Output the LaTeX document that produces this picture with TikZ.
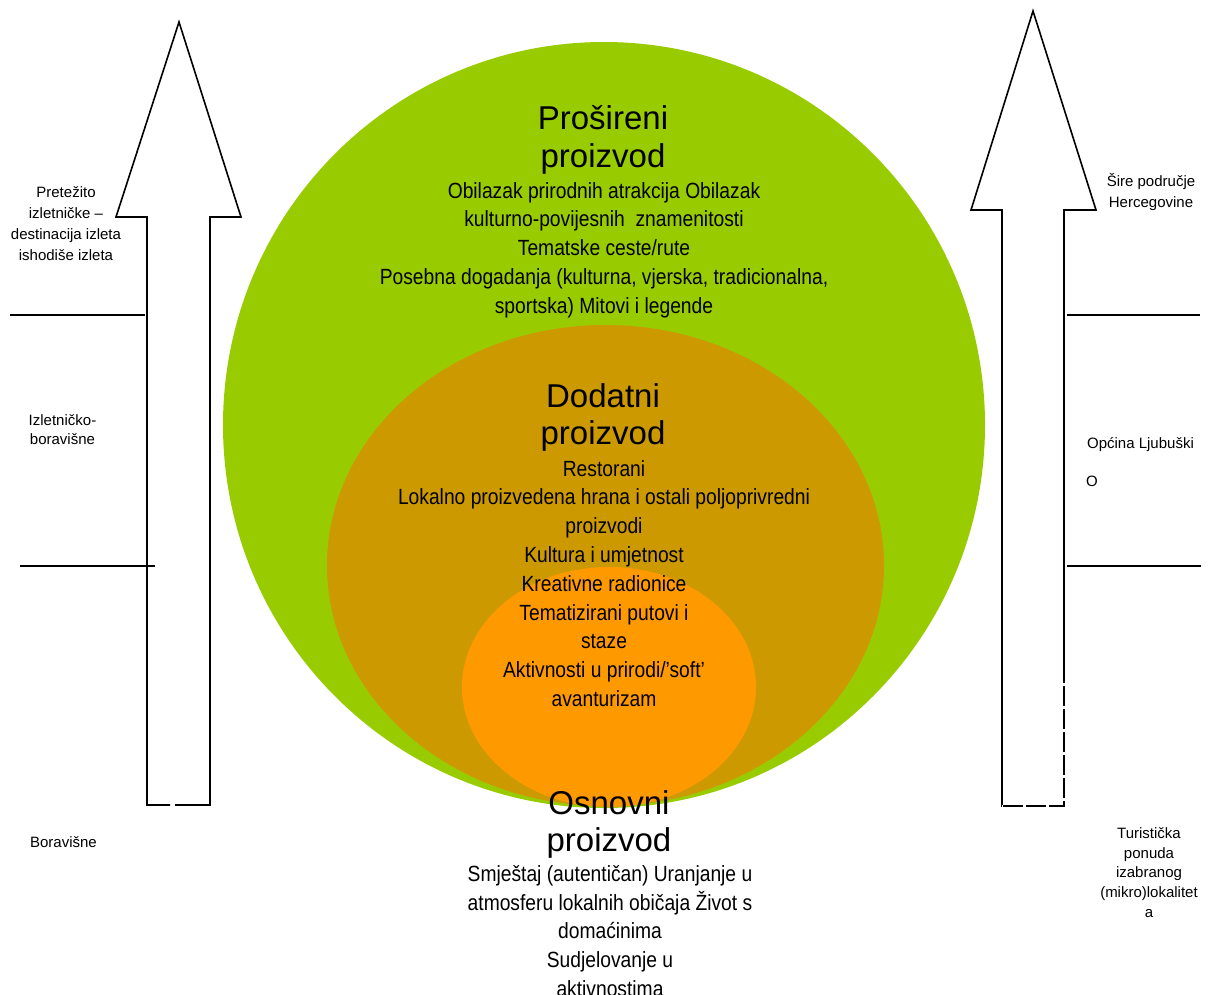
\documentclass[tikz,border=0pt]{standalone}
\usepackage{fontspec}
\setmainfont{Liberation Sans}
\newfontfamily\narrowfont[FakeStretch=0.875]{Liberation Sans}
\definecolor{extgreen}{HTML}{99CC00}
\definecolor{addbrown}{HTML}{CC9900}
\definecolor{coreorange}{HTML}{FF9900}
\tikzset{
  levelhead/.style={font=\fontsize{33}{37.5}\selectfont, align=center, inner sep=0pt},
  levelbody/.style={font=\narrowfont\fontsize{22}{28.8}\selectfont, align=center, inner sep=0pt},
  sidelabel/.style={font=\fontsize{15}{21}\selectfont, align=center, inner sep=0pt},
  bigarrow/.style={draw=black, fill=white, line width=1.6pt, line join=miter},
  divider/.style={draw=black, line width=1.2pt},
}
\begin{document}
\begin{tikzpicture}[x=1pt, y=-1pt]
\useasboundingbox (0,0) rectangle (1215,994);

% nested product levels
\fill[extgreen]   (604,425) ellipse [x radius=381pt, y radius=383pt];
\fill[addbrown]   (605.5,565.5) ellipse [x radius=278.5pt, y radius=240.5pt];
\fill[coreorange] (609,687) ellipse [x radius=147pt, y radius=120pt];

% extended product
\node[levelhead] (extHead) at (603,140) {Prošireni\\proizvod};
\node[levelbody] (extBody) at (604,250) {Obilazak prirodnih atrakcija Obilazak\\kulturno-povijesnih\ \ znamenitosti\\Tematske ceste/rute\\Posebna dogadanja (kulturna, vjerska, tradicionalna,\\sportska) Mitovi i legende};

% additional product
\node[levelhead] (addHead) at (603,417.5) {Dodatni\\proizvod};
\node[levelbody] (addBody) at (604,583.5) {Restorani\\Lokalno proizvedena hrana i ostali poljoprivredni\\proizvodi\\Kultura i umjetnost\\Kreativne radionice\\Tematizirani putovi i\\staze\\Aktivnosti u prirodi/’soft’\\avanturizam};

% core product
\node[levelhead] (coreHead) at (609,824.5) {Osnovni\\proizvod};
\node[levelbody] (coreBody) at (610,931) {Smještaj (autentičan) Uranjanje u\\atmosferu lokalnih običaja Život s\\domaćinima\\Sudjelovanje u\\aktivnostima};

% left arrow: type of stay
\draw[bigarrow] (170,805) -- (147,805) -- (147,217) -- (116,217) -- (179,22)
  -- (241,217) -- (210,217) -- (210,805) -- (175,805);
\draw[divider] (10,315) -- (145,315);
\draw[divider] (20,566) -- (155,566);
\node[sidelabel] (stayTop) at (66,223.5) {Pretežito\\izletničke –\\destinacija izleta\\ishodiše izleta};
\node[sidelabel, font=\fontsize{15}{19}\selectfont] (stayMid) at (62.5,430) {Izletničko-\\boravišne};
\node[sidelabel] (stayLow) at (63.5,842) {Boravišne};

% right arrow: spatial scope
\draw[bigarrow] (1064,806) -- (1064,667) -- (1064,210) -- (1096,210) -- (1033,11)
  -- (971,210) -- (1002,210) -- (1002,806) -- cycle;
\draw[white, line width=2.2pt, dash pattern=on 3pt off 20pt, dash phase=-21pt]
  (1002,806) -- (1064,806) -- (1064,667);
\draw[divider] (1067,315) -- (1200,315);
\draw[divider] (1067,566) -- (1201,566);
\node[sidelabel] (areaTop) at (1151,191.5) {Šire područje\\Hercegovine};
\node[sidelabel] (areaMid) at (1140.5,445) {Općina Ljubuški};
\node[sidelabel] (areaMark) at (1092,481.5) {O};
\node[sidelabel, font=\fontsize{15}{19.8}\selectfont] (areaLow) at (1149,872.5) {Turistička\\ponuda\\izabranog\\(mikro)lokalitet\\a};
\end{tikzpicture}
\end{document}
